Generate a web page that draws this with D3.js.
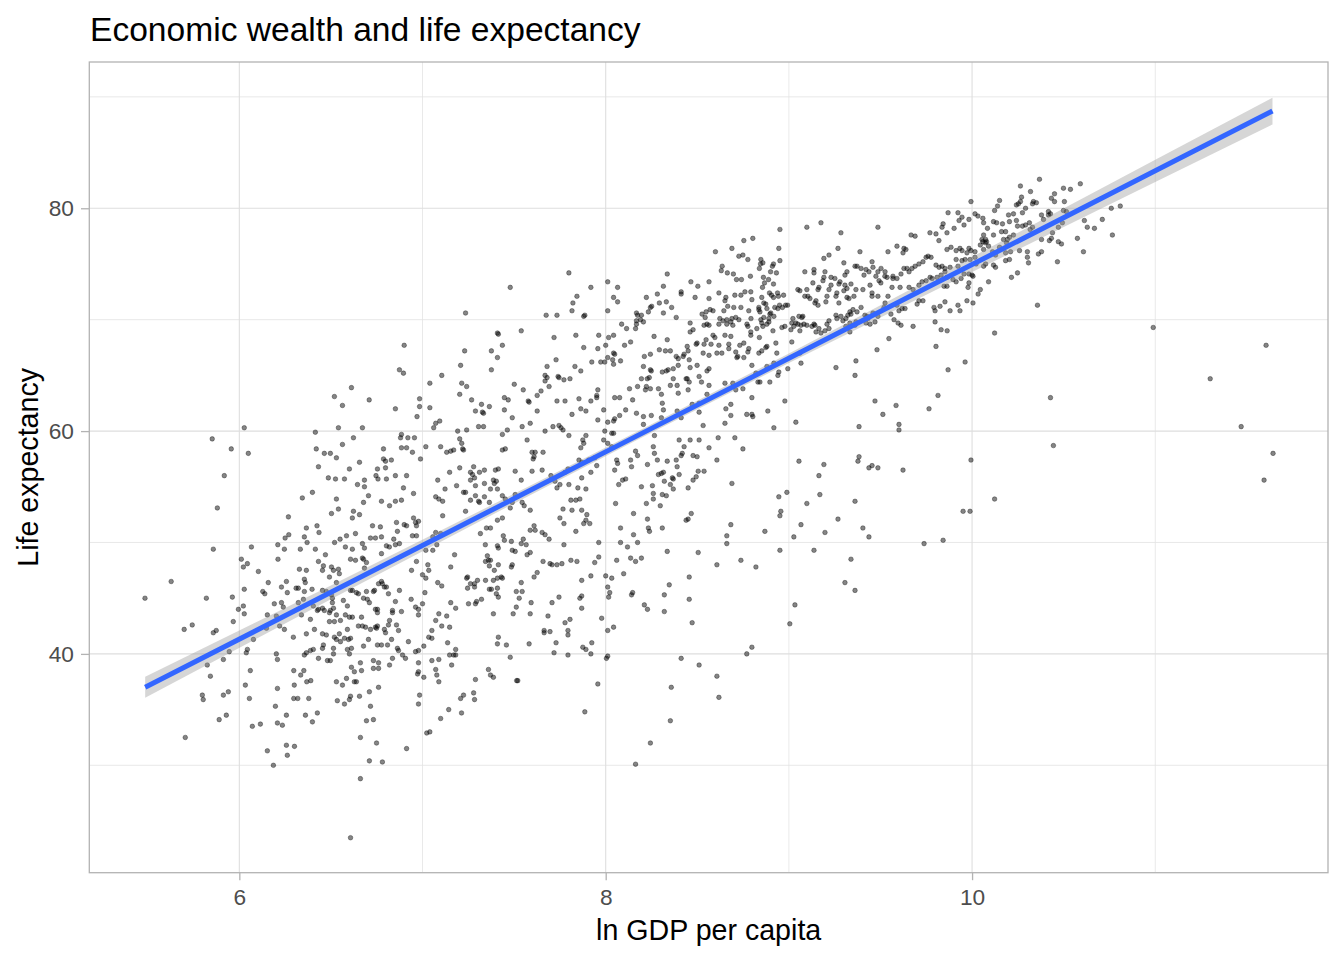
<!DOCTYPE html>
<html>
<head>
<meta charset="utf-8">
<script src="https://cdn.jsdelivr.net/npm/d3@7"></script>
<style>
  html, body { margin: 0; padding: 0; background: #ffffff; }
  svg { display: block; }
  text { font-family: "Liberation Sans", Arial, Helvetica, sans-serif; }
</style>
</head>
<body>
<svg id="chart" width="1344" height="960"></svg>
<script>
// ---------------- DATA ----------------
const chartTitle = "Economic wealth and life expectancy";
const xTitle = "ln GDP per capita";
const yTitle = "Life expectancy";
const xTicks = [6, 8, 10];
const xMinorTicks = [7, 9, 11];
const yTicks = [40, 60, 80];
const yMinorTicks = [30, 50, 70, 90];

// [ln GDP per capita, life expectancy]
const ptsPoorHigh = [[6.90,67.7],[6.874,65.5],[6.896,65.2],[6.612,63.9],[6.519,63.1],[6.709,62.8],[6.563,62.3],[6.984,62.9],[6.984,62.2],[6.852,62.0],[6.97,61.3],[6.027,60.3],[5.852,59.3],[5.956,58.4],[6.049,58.0],[5.918,56.0],[5.880,53.1],[6.415,59.9],[6.541,60.3],[6.672,60.3],[6.623,59.4],[6.885,59.7],[6.88,59.4],[6.92,59.4],[6.956,59.4],[6.563,58.8],[6.42,58.4],[6.464,58.0],[6.497,58.0],[6.53,57.6],[6.787,58.4],[6.885,58.5],[6.913,58.5],[6.945,58.1],[6.989,57.5],[6.787,57.5],[6.798,57.3],[6.83,57.4],[6.798,56.7],[6.754,56.6],[6.656,57.2],[6.601,56.6],[6.432,56.8],[6.486,55.8],[6.525,55.7],[6.574,55.7],[6.746,56.0],[6.757,55.7],[6.803,55.7],[6.852,56.0],[6.913,56.0],[6.683,55.6],[6.645,55.2],[6.683,55.0],[6.896,54.9],[6.951,54.4],[6.705,54.2],[6.399,54.5],[6.344,54.0],[6.53,53.9],[6.678,53.6],[6.776,53.7],[6.82,53.3],[6.852,53.7],[6.885,53.8],[6.541,53.0],[6.503,52.6],[6.623,52.8],[6.656,52.5],[6.617,52.2],[6.268,52.3],[6.366,51.3],[6.424,51.5],[6.435,50.9],[6.27,50.7],[6.25,50.4],[6.355,50.5],[6.37,50.0],[6.52,50.0],[6.55,50.3],[6.585,50.6],[6.634,50.8],[6.672,49.9],[6.727,51.5],[6.77,51.4],[6.716,50.4],[6.743,50.4],[6.776,50.5],[6.858,51.8],[6.90,51.6],[6.913,51.5],[6.951,52.2],[6.962,51.8],[6.978,51.9],[6.967,51.5],[6.863,51.0],[6.843,50.3],[6.945,50.6],[6.967,50.6],[6.874,49.9]];

const ptsPoorLow = [[5.858,49.4],[6.066,49.6],[6.21,49.8],[6.246,49.4],[6.333,49.4],[6.011,48.5],[6.044,48.1],[6.022,47.8],[6.211,48.5],[5.628,46.5],[5.485,45.0],[5.82,45.0],[5.962,45.1],[6.104,47.4],[6.158,46.4],[6.027,45.8],[6.128,45.6],[6.139,45.4],[6.23,46.0],[6.257,46.5],[6.262,45.5],[6.31,45.9],[6.355,46.7],[6.36,46.4],[6.328,47.6],[6.366,47.5],[6.432,48.3],[6.459,47.9],[6.454,47.5],[6.47,48.9],[6.415,49.4],[6.579,49.6],[6.617,49.4],[6.683,49.5],[6.776,49.0],[6.803,49.7],[6.819,49.6],[6.852,49.8],[6.607,48.5],[6.634,48.4],[6.672,48.6],[6.678,48.5],[6.694,48.2],[6.683,47.7],[6.503,47.8],[6.541,47.6],[6.514,47.5],[6.546,47.2],[6.492,46.9],[6.53,46.4],[6.475,45.6],[6.454,45.7],[6.322,45.9],[6.355,45.6],[6.397,45.8],[6.35,44.9],[6.322,44.6],[6.191,44.5],[6.23,44.6],[6.24,44.2],[6.022,44.3],[5.995,44.0],[6.027,43.6],[5.967,42.9],[5.699,42.2],[5.743,42.6],[5.858,41.9],[5.874,42.1],[6.153,43.5],[6.202,43.4],[6.22,42.5],[6.246,42.2],[6.148,42.3],[6.077,41.3],[6.295,41.5],[6.339,43.5],[6.388,43.1],[6.41,42.2],[6.366,41.8],[6.454,41.8],[6.475,41.7],[6.459,40.8],[6.454,40.5],[6.404,40.4],[6.388,40.3],[6.366,40.1],[6.355,39.9],[6.432,39.6],[6.481,39.4],[6.497,39.4],[6.514,40.0],[6.514,40.5],[6.519,41.5],[6.53,41.3],[6.552,41.1],[6.574,41.4],[6.596,41.3],[6.607,41.4],[6.546,41.8],[6.59,42.2],[6.59,40.4],[6.612,40.5],[6.601,40.0],[6.492,42.9],[6.519,42.9],[6.552,43.0],[6.464,43.9],[6.492,43.7],[6.497,43.9],[6.53,43.5],[6.514,44.1],[6.454,44.1],[6.432,44.0],[6.404,44.3],[6.426,43.9],[6.568,44.8],[6.59,44.3],[6.601,43.3],[6.617,43.3],[6.579,43.5],[6.508,45.0],[6.508,44.6],[6.503,45.3],[6.607,45.7],[6.617,45.7],[6.639,45.5],[6.65,45.4],[6.694,45.6],[6.699,44.9],[6.71,44.6],[6.678,45.0],[6.738,45.7],[6.732,45.6],[6.76,46.3],[6.776,46.5],[6.781,46.3],[6.792,46.0],[6.803,46.0],[6.814,45.4],[6.852,44.7],[6.874,45.7],[6.743,44.0],[6.754,44.0],[6.754,43.7],[6.836,43.9],[6.836,43.7],[6.885,43.8],[6.82,43.0],[6.667,43.3],[6.65,42.5],[6.672,42.5],[6.689,42.4],[6.716,42.2],[6.743,42.4],[6.754,42.5],[6.749,42.3],[6.792,42.2],[6.814,42.6],[6.858,42.6],[6.869,42.1],[6.798,41.9],[6.705,41.3],[6.754,40.8],[6.776,40.8],[6.809,40.8],[6.831,41.3],[6.863,40.5],[6.869,40.3],[6.891,39.9],[6.907,39.6],[6.836,39.6],[6.82,39.0],[6.76,39.2],[6.732,39.4],[6.732,38.7],[6.76,38.7],[6.678,40.7],[6.612,38.8],[6.661,39.2],[6.628,38.4],[6.667,38.5],[6.628,37.5],[6.639,37.5],[6.585,37.8],[6.53,37.5],[6.563,37.2],[6.535,35.8],[6.574,35.5],[6.601,35.9],[6.607,36.2],[6.656,36.2],[6.71,36.6],[6.716,35.3],[6.694,34.0],[6.732,34.1],[6.76,37.0],[6.297,38.5],[6.352,38.5],[6.335,38.1],[6.368,37.5],[6.39,37.6],[6.30,37.2],[6.297,36.0],[6.319,36.0],[6.379,36.0],[6.426,34.7],[6.361,34.5],[6.399,33.9],[6.257,34.5],[6.197,35.3],[6.208,36.9],[6.202,40.0],[6.208,39.5],[6.06,38.5],[6.033,37.2],[6.055,36.0],[6.071,33.5],[6.115,33.7],[6.208,33.8],[6.235,33.6],[6.153,31.3],[6.186,30.0],[6.257,31.8],[6.301,31.7],[6.262,30.9],[6.044,40.4],[6.038,40.1],[5.945,40.2],[5.913,39.5],[5.825,39.0],[5.842,38.0],[5.798,36.3],[5.803,35.9],[5.913,36.3],[5.94,36.6],[5.929,34.5],[5.89,34.1],[5.705,32.5],[6.661,32.5],[6.749,32.0],[6.71,30.4],[6.781,30.3],[6.661,28.8],[6.913,31.5],[6.607,23.5],[6.938,44.9],[6.962,44.2],[6.978,44.0],[6.978,43.5],[7.0,44.5],[7.0,47.1],[6.967,48.3],[6.94,47.5],[6.923,41.1],[6.962,40.2],[6.978,40.3],[6.978,39.2],[6.978,38.4],[6.973,38.2],[6.984,36.3],[6.978,35.5]];

const ptsMidHigh = [[7.799,74.2],[7.479,72.9],[7.235,70.6],[7.843,72.1],[7.821,71.5],[7.816,70.8],[7.919,72.9],[7.675,70.4],[7.734,70.4],[7.88,70.3],[7.886,70.4],[8.011,73.4],[8.065,72.9],[8.043,72.0],[8.065,71.6],[8.011,70.8],[8.336,74.1],[8.315,73.0],[8.282,72.3],[8.222,72.0],[8.251,71.2],[8.244,71.1],[8.331,71.6],[8.293,71.5],[8.36,71.1],[8.315,70.6],[8.233,70.7],[8.168,70.6],[8.174,70.4],[8.195,70.4],[8.19,70.0],[8.206,69.8],[8.168,69.9],[8.412,72.5],[8.412,72.3],[8.465,73.4],[8.503,73.0],[8.488,72.0],[8.564,73.4],[8.564,71.9],[8.548,70.7],[8.57,70.9],[8.526,70.5],[8.543,70.2],[8.553,69.6],[8.564,69.5],[8.537,69.5],[8.586,70.8],[8.385,70.2],[8.461,69.7],
[7.539,69.0],[7.409,68.8],[7.414,68.7],[7.23,67.2],[7.376,67.2],[7.436,67.7],[7.409,66.6],[7.208,65.9],[7.376,65.5],[7.105,65.0],[7.04,64.3],[7.718,68.4],[7.837,68.6],[7.88,67.5],[7.957,67.4],[7.962,68.6],[7.729,66.4],[7.68,65.8],[7.832,65.8],[7.864,65.4],[7.924,66.2],[7.973,66.2],[7.995,66.2],[8.011,66.6],[8.0,67.7],[8.016,68.4],[8.043,68.6],[8.043,67.0],[8.038,66.4],[8.049,66.9],[8.081,66.3],[8.043,66.0],[8.103,67.7],[8.114,69.2],[8.087,69.6],[8.136,68.0],[8.163,69.2],[8.168,69.6],[8.211,66.7],[8.244,66.9],[8.206,65.8],[8.244,65.5],[8.249,65.4],[8.238,64.8],[8.195,64.7],[8.227,64.7],[8.264,68.5],[8.336,68.2],[8.293,67.3],[8.326,67.2],[8.353,67.2],[8.385,66.7],[8.396,66.5],[8.423,66.7],[8.341,65.5],[8.369,65.6],[8.309,65.3],[8.331,65.4],[8.461,68.9],[8.477,69.1],[8.499,67.9],[8.494,67.8],[8.537,67.8],[8.575,67.8],[8.586,68.6],[8.548,68.2],[8.445,67.6],[8.45,67.2],[8.428,66.9],[8.456,66.4],[8.499,65.9],[8.532,67.0],[8.564,66.8],[8.461,65.7],[8.51,64.9],[8.553,65.4],[8.564,65.6],[8.445,64.7],[8.396,65.9],
[7.501,64.2],[7.55,63.7],[7.669,65.0],[7.68,64.8],[7.669,64.5],[7.691,64.0],[7.74,64.9],[7.745,64.8],[7.772,64.6],[7.805,64.7],[7.626,63.2],[7.647,63.6],[7.203,63.3],[7.214,64.3],[7.241,64.0],[7.268,62.8],[7.289,61.8],[7.322,62.4],[7.327,61.7],[7.333,61.6],[7.365,62.2],[7.447,63.0],[7.468,62.8],[7.447,61.9],[7.49,61.2],[7.588,60.7],[7.544,60.4],[7.577,62.7],[7.582,62.6],[7.626,61.8],[7.734,62.7],[7.778,62.7],[7.816,61.5],[7.854,62.9],[7.864,62.0],[7.892,61.8],[7.919,62.7],[7.951,63.2],[7.951,63.0],[7.957,63.7],[7.04,62.1],[7.061,60.3],[7.072,60.7],[7.094,60.9],[7.306,60.4],[7.333,60.4],[7.241,60.1],[7.192,60.0],[7.712,60.4],[7.745,60.5],[7.756,60.3],[7.767,60.1],[7.799,59.6],[7.669,60.0],[7.957,61.0],[7.989,61.9],[8.011,60.8],[8.043,60.9],[8.049,61.1],[8.076,61.4],[8.109,61.9],[8.168,61.6],[8.206,61.3],[8.249,61.4],[8.304,61.2],[8.206,60.6],[8.266,59.6],[7.995,60.0],[8.033,59.8],[8.043,59.8],[7.989,59.2],[8.011,58.9],[8.033,58.6],[8.049,63.0],[8.076,63.0],[8.147,62.8],[8.217,63.7],[8.222,64.0],[8.244,63.8],[8.13,63.8],[8.174,64.0],[8.288,63.8],[8.304,63.3],[8.353,64.1],[8.369,64.7],[8.39,64.1],[8.396,63.4],[8.439,64.7],[8.45,63.7],[8.456,64.4],[8.472,62.4],[8.51,62.5],[8.523,64.4],[8.564,64.1],[8.553,63.3],[8.51,61.7],[8.532,60.5],[8.412,61.2],[8.39,61.8],[8.315,61.9],[8.309,62.5],
[7.018,58.6],[7.099,58.6],[7.083,55.6],[7.123,54.8],[7.072,54.1],[7.089,53.9],[7.11,53.7],[7.11,52.4],[7.148,56.3],[7.186,55.1],[7.203,59.3],[7.214,58.9],[7.219,58.4],[7.224,58.3],[7.132,58.1],[7.154,58.2],[7.17,58.3],[7.203,56.7],[7.262,56.3],[7.279,56.8],[7.273,56.1],[7.284,55.8],[7.262,55.6],[7.311,56.3],[7.338,56.5],[7.338,55.3],[7.289,55.1],[7.224,54.5],[7.235,54.5],[7.262,53.8],[7.289,54.2],[7.306,53.7],[7.311,53.6],[7.235,52.8],[7.387,55.6],[7.403,55.5],[7.392,55.3],[7.371,54.8],[7.409,54.8],[7.338,54.1],[7.365,53.6],[7.398,56.5],[7.414,56.6],[7.436,54.2],[7.436,58.3],[7.452,58.4],[7.436,59.7],[7.463,60.1],[7.571,59.2],[7.598,58.1],[7.615,58.1],[7.658,58.1],[7.609,57.7],[7.604,57.5],[7.506,56.4],[7.539,55.6],[7.598,56.4],[7.653,56.5],[7.506,54.3],[7.544,53.6],[7.555,53.3],[7.588,52.9],[7.452,53.9],[7.49,53.6],[7.479,53.1],[7.436,52.2],[7.875,59.2],[7.88,58.9],[7.892,59.6],[7.864,58.5],[7.854,57.4],[7.869,57.2],[7.907,57.4],[7.94,57.6],[7.951,56.9],[7.919,56.3],[7.869,55.8],[7.848,54.9],[7.892,54.8],[7.81,53.8],[7.837,53.8],[7.859,53.9],[7.767,53.0],[7.816,52.9],[7.869,52.9],[7.897,52.5],[7.75,52.2],[7.799,55.2],[7.75,55.2],[7.723,55.5],[7.734,54.9],[7.701,56.0],[7.778,56.3],[7.794,56.6],[8.049,56.5],[8.092,55.6],[8.109,55.7],[8.071,55.2],[8.06,57.4],[8.065,57.1],[8.141,56.8],[8.136,57.4],[8.195,55.0],[8.228,57.0],[8.174,57.8],[8.163,58.2],[8.26,58.6],[8.266,58.0],[8.282,57.4],[8.288,56.1],[8.304,56.2],[8.315,56.3],[8.32,55.5],[8.364,55.8],[8.369,55.7],[8.255,55.1],[8.26,54.4],[8.309,54.3],[8.331,54.2],[8.26,53.9],[8.298,53.3],[8.222,53.5],[8.054,53.5],[8.152,52.6],[8.228,52.1],[8.336,57.3],[8.385,57.4],[8.39,56.8],[8.401,56.1],[8.353,55.2],[8.369,54.8],[8.45,54.9],[8.477,55.6],[8.494,55.9],[8.505,56.4],[8.537,56.4],[8.477,57.8],[8.499,57.7],[8.412,57.8],[8.418,58.0],[8.428,58.6],[8.401,59.2],[8.461,59.2],[8.51,59.2],[8.564,58.5],[8.467,52.6],[8.45,52.1]];

const ptsMidLow = [[7.409,52.0],[7.316,50.8],[7.343,49.8],[7.349,51.3],[7.371,51.3],[7.409,49.7],[7.414,49.5],[7.441,50.6],[7.447,50.2],[7.485,50.1],[7.49,49.3],[7.506,49.2],[7.539,49.9],[7.55,50.3],[7.566,49.8],[7.588,49.1],[7.571,48.9],[7.588,51.1],[7.609,51.5],[7.615,51.1],[7.653,50.9],[7.669,50.7],[7.691,50.3],[7.772,51.7],[7.772,49.8],[7.837,51.0],[7.88,51.7],[7.892,52.0],[7.913,51.7],
[7.072,50.9],[7.056,50.5],[7.099,50.8],[7.078,49.8],[7.018,49.3],[7.056,49.3],[7.029,48.0],[7.034,47.5],[7.175,48.9],[7.154,47.8],[7.018,46.8],[7.083,46.4],[7.105,46.1],[7.013,45.5],[7.089,43.6],[7.132,43.4],[7.072,43.0],[7.105,42.5],[7.148,42.4],[7.051,42.1],[7.034,41.5],[7.051,41.4],[7.137,41.0],[7.007,40.7],[7.148,39.9],[7.17,39.9],[7.181,39.9],[7.181,40.4],[7.159,39.0],[7.051,39.4],[7.089,39.5],[7.072,38.6],[7.078,38.1],[7.089,37.5],[7.007,37.9],[7.143,35.0],[7.099,34.2],[7.023,32.9],[7.04,33.0],[7.213,34.7],[7.208,36.0],[7.224,36.3],[7.279,36.5],[7.284,35.9],[7.289,37.7],[7.36,38.6],[7.371,38.1],[7.387,37.9],[7.154,44.6],[7.181,44.1],[7.251,44.5],[7.289,44.5],[7.295,44.7],[7.322,44.9],[7.387,43.6],[7.414,41.5],[7.409,40.9],[7.458,40.8],[7.479,39.7],[7.514,37.6],[7.52,37.6],
[7.241,46.8],[7.246,46.9],[7.3,46.6],[7.246,45.9],[7.262,46.3],[7.284,46.3],[7.284,46.0],[7.344,46.6],[7.354,48.8],[7.36,48.4],[7.344,48.3],[7.371,48.4],[7.365,47.9],[7.392,47.5],[7.387,46.6],[7.409,46.8],[7.414,48.0],[7.409,45.9],[7.403,45.4],[7.414,45.1],[7.43,46.9],[7.436,46.8],[7.365,45.8],[7.376,45.8],[7.485,47.8],[7.49,48.0],[7.539,46.4],[7.512,45.6],[7.528,45.0],[7.544,45.6],[7.512,44.2],[7.495,43.6],[7.588,43.6],[7.593,44.6],[7.582,40.9],[7.609,46.9],[7.626,47.3],[7.658,48.3],[7.696,48.1],[7.707,48.0],[7.734,48.0],[7.761,48.1],[7.81,48.4],[7.843,48.3],[7.707,44.6],[7.745,45.1],[7.685,43.4],[7.778,42.8],[7.805,43.1],[7.794,42.1],[7.794,41.7],[7.664,42.1],[7.664,41.9],[7.696,42.0],[7.729,41.0],[7.718,40.1],[7.794,39.9],[7.875,40.6],[7.892,40.4],[7.924,41.0],[7.919,40.0],[7.859,45.0],[7.869,45.2],[7.869,44.1],[7.919,47.0],[7.869,46.6],[7.94,48.2],[7.962,48.7],[7.962,50.0],[7.978,43.2],[7.957,37.3],[7.886,34.8],
[8.0,47.0],[8.033,46.8],[8.011,46.0],[8.022,45.5],[8.016,45.1],[8.011,42.1],[8.043,42.4],[8.004,39.6],[8.011,39.8],[8.06,48.4],[8.081,50.0],[8.081,51.3],[8.119,49.6],[8.152,50.7],[8.174,50.0],[8.136,48.6],[8.163,48.3],[8.195,48.6],[8.098,47.2],[8.141,45.3],[8.147,45.5],[8.211,44.4],[8.228,44.0],[8.239,51.0],[8.233,51.3],[8.309,51.3],[8.336,49.2],[8.32,45.3],[8.32,43.8],[8.347,46.2],[8.456,46.9],[8.456,44.9],[8.439,52.0],[8.505,49.1],[8.472,42.8],[8.412,39.6],[8.51,39.0],[8.358,37.0],[8.353,34.0],[8.244,32.0],[8.163,30.1]];

const ptsRichHigh = [[8.599,76.1],[8.689,76.4],[8.754,77.1],[8.803,77.3],[8.727,75.7],[8.749,75.8],[8.776,75.4],[8.847,75.4],[8.858,75.1],[8.945,76.4],[8.951,75.3],[8.951,78.1],
[8.636,74.8],[8.631,74.4],[8.664,74.2],[8.697,74.1],[8.714,73.6],[8.741,73.6],[8.79,73.9],[8.839,74.6],[8.845,75.0],[8.91,74.8],[8.916,75.0],[8.9,74.3],[8.932,74.2],[8.889,73.6],[8.861,73.8],[8.867,73.3],[8.856,72.9],[8.894,72.4],[8.905,72.2],[8.916,72.0],[8.938,72.4],[8.943,72.1],[8.916,73.2],[8.949,71.3],[8.965,71.1],[8.971,72.2],[8.982,71.3],[8.993,71.3],
[8.618,72.4],[8.656,72.0],[8.651,71.7],[8.705,72.2],[8.738,72.2],[8.76,72.5],[8.792,72.5],[8.798,71.8],[8.852,72.0],[8.863,71.5],[8.874,71.4],[8.836,71.1],[8.842,70.7],[8.88,71.0],[8.896,70.5],[8.901,70.6],[8.923,71.1],[8.94,71.0],[8.918,70.3],[8.891,70.1],[8.863,70.2],[8.847,70.0],[8.836,70.9],[8.781,70.8],[8.738,71.1],[8.699,71.1],[8.666,71.2],[8.645,70.8],[8.623,70.1],[8.661,70.0],[8.683,69.8],[8.694,69.5],[8.689,70.1],[8.71,70.2],[8.727,70.0],[8.793,70.1],[8.771,69.6],[8.776,69.4],[8.825,69.2],[8.858,69.4],[8.852,69.7],[8.88,69.6],[8.891,69.8],[8.913,69.0],[8.962,69.3],[8.978,69.4],[9.011,69.1],[9.016,69.7],[9.038,69.7],[9.049,69.6],[9.06,69.0],[9.071,70.2],[9.076,70.3],
[8.618,69.6],[8.64,69.9],[8.661,69.6],[8.651,68.6],[8.683,68.5],[8.596,68.4],[8.618,67.7],[8.607,67.0],[8.634,67.0],[8.672,67.8],[8.672,67.4],[8.71,67.1],[8.716,66.6],[8.732,67.7],[8.721,66.7],[8.754,66.6],[8.776,67.1],[8.781,67.4],[8.754,67.9],[8.792,68.9],[8.792,68.6],[8.839,68.4],[8.798,65.9],[8.836,67.0],[8.852,67.2],[8.88,67.6],[8.874,67.5],[8.929,67.9],[8.934,67.0],[8.918,66.1],[8.88,65.8],[8.82,65.2],[8.842,64.4],[8.896,64.4],[8.94,65.0],[8.945,65.3],[8.994,65.6],[9.016,68.0],[9.066,66.1],[9.06,67.0],
[8.651,64.3],[8.694,64.3],[8.71,63.7],[8.749,63.8],[8.798,63.0],[8.831,64.4],[8.885,61.8],[8.656,62.0],[8.683,62.4],[8.651,60.7],[8.683,61.4],[8.77,61.5],[8.798,61.5],[8.803,61.3],[8.918,60.3],[8.978,62.7],[9.038,60.8],
[9.098,78.3],[9.175,78.7],[9.284,77.8],[9.268,76.4],[9.191,75.5],[9.219,75.8],[9.3,75.1],
[9.087,74.3],[9.137,74.5],[9.137,74.2],[9.197,74.3],[9.191,73.8],[9.186,73.5],[9.23,73.8],[9.251,73.7],[9.279,73.4],[9.306,74.0],[9.317,74.3],[9.23,73.1],[9.219,72.7],[9.164,72.9],[9.159,72.7],[9.131,73.3],[9.098,72.7],[9.06,72.6],[9.049,72.7],[9.087,72.1],[9.104,72.1],[9.115,71.9],[9.148,71.7],[9.142,71.5],[9.159,71.3],[9.202,71.6],[9.208,72.1],[9.257,72.1],[9.273,73.2],[9.306,73.1],[9.317,72.8],[9.317,72.0],[9.328,71.9],[9.355,72.1],[9.361,74.8],[9.372,74.8],[9.394,74.6],[9.421,74.5],[9.454,75.2],[9.388,76.1],[9.41,74.0],[9.437,74.3],[9.475,73.9],[9.486,74.3],[9.492,73.5],[9.443,73.1],[9.404,72.7],[9.454,72.4],[9.486,72.1],[9.366,72.7],[9.339,73.2],[9.262,72.4],[9.3,72.6],[9.273,71.5],
[9.055,70.3],[9.022,70.1],[9.027,69.4],[9.066,69.5],[9.082,69.6],[9.098,69.5],[9.126,69.4],[9.137,69.6],[9.142,69.5],[9.164,69.2],[9.208,69.6],[9.219,69.9],[9.262,70.1],[9.257,70.4],[9.284,70.3],[9.311,70.1],[9.322,70.4],[9.339,70.5],[9.333,70.7],[9.35,70.9],[9.394,71.1],[9.372,70.7],[9.415,70.4],[9.432,70.1],[9.443,69.6],[9.47,69.8],[9.486,70.3],[9.148,68.9],[9.175,68.8],[9.197,69.0],[9.219,69.2],[9.333,68.9],[9.311,69.4],[9.295,69.9],[9.333,69.7],[9.361,69.5],[9.366,69.8],[9.421,69.7],
[9.257,65.7],[9.366,66.3],[9.361,65.0],[9.47,62.7],[9.481,67.3],[9.546,68.3],[9.513,61.5],[9.383,60.4],[9.601,60.6],[9.601,60.1],[9.585,62.3],[9.803,67.6],[9.814,63.2],[9.765,62.0],[9.869,65.5],[9.962,66.2],[9.864,69.0],[9.798,69.8],[9.831,69.1],
[9.486,78.3],[9.541,76.1],[9.59,76.6],[9.628,76.4],[9.639,76.3],[9.623,76.0],[9.667,77.6],[9.689,77.5],[9.77,77.8],[9.803,77.7],[9.819,77.1],[9.836,78.3],[9.842,78.6],[9.863,77.8],[9.869,79.6],[9.923,79.6],[9.902,78.2],[9.929,78.9],[9.945,79.2],[9.956,78.5],[9.983,79.0],[9.994,80.6],[10.016,79.5],[10.032,79.3],[9.885,76.5],[9.863,76.3],[9.913,76.2],[9.934,76.4],[9.945,76.2],[9.972,76.0],[9.983,76.4],[9.994,76.2],[10.016,76.1],
[9.459,74.7],[9.503,74.6],[9.525,74.3],[9.536,73.8],[9.568,73.7],[9.568,73.9],[9.59,73.7],[9.612,74.1],[9.628,74.6],[9.645,74.6],[9.656,74.3],[9.672,74.6],[9.689,74.8],[9.71,75.0],[9.732,75.2],[9.749,75.6],[9.76,75.7],[9.776,75.6],[9.803,74.9],[9.82,74.7],[9.836,74.8],[9.852,74.6],[9.88,74.7],[9.913,75.4],[9.923,74.8],[9.945,75.3],[9.962,75.4],[9.989,75.4],[10.016,75.6],[10.022,75.0],[9.502,73.3],[9.524,73.9],[9.563,72.9],[9.607,72.9],[9.656,72.9],[9.678,72.7],[9.71,73.1],[9.727,73.4],[9.749,73.5],[9.771,73.8],[9.782,73.7],[9.809,73.8],[9.831,74.0],[9.852,74.3],[9.863,73.8],[9.847,73.0],[9.863,73.0],[9.896,73.6],[9.913,73.4],[9.94,73.7],[9.956,74.1],[9.983,74.1],[10.0,74.0],[10.005,73.9],[9.983,73.3],[9.978,72.9],
[9.454,72.1],[9.541,72.1],[9.525,71.5],[9.519,71.1],[9.59,71.3],[9.618,71.0],[9.601,70.8],[9.634,71.0],[9.7,71.4],[9.71,71.7],[9.732,71.7],[9.792,71.1],[9.798,70.8],[9.825,71.2],[9.852,71.6],[9.88,70.8],[9.923,71.3],[9.934,70.8],[9.972,71.7],[10.005,71.5],[10.033,72.3],[9.459,70.6],[9.426,70.3],[9.557,70.5],[9.596,69.7],[9.612,69.5],[9.574,70.0],[9.678,69.4]];

const ptsRichLow = [[8.614,59.4],[8.705,59.4],[8.607,57.4],[8.749,58.4],[8.689,55.3],[9.055,57.3],[9.191,57.0],[9.164,56.0],[9.169,54.3],[9.098,53.5],[8.989,54.5],[8.945,54.1],[8.956,52.8],[8.951,52.4],[9.066,51.6],[9.027,50.5],[8.869,51.0],[8.683,51.6],[8.661,50.6],[8.661,49.9],[8.607,48.0],[8.738,48.4],[8.82,47.8],[8.951,49.3],[9.137,49.3],[9.197,50.9],[9.268,52.1],[9.361,53.7],[9.377,57.3],[9.383,57.7],[9.437,56.7],[9.454,56.9],[9.486,56.7],[9.623,56.5],[9.404,51.3],[9.437,50.5],[9.339,48.5],[9.306,46.4],[9.361,45.7],[9.033,44.4],[9.005,42.7],[8.798,40.6],[8.77,40.0],[8.607,38.0],[8.618,36.1],[9.738,49.9],[9.842,50.2],[9.951,52.8],[9.989,52.8],[9.994,57.4]];

const ptsRichest = [[10.368,82.6],[10.264,82.0],[10.319,81.5],[10.27,81.0],[10.264,80.6],[10.253,80.4],[10.242,80.3],[10.15,80.7],[10.139,80.2],[10.123,79.8],[10.059,79.1],[10.063,78.7],[10.084,78.2],[10.117,78.8],[10.134,78.7],[10.166,78.6],[10.204,78.8],[10.199,79.4],[10.226,79.5],[10.242,78.9],[10.275,79.6],[10.292,80.0],[10.335,80.6],[10.33,80.4],[10.351,80.5],[10.433,80.9],[10.45,81.3],[10.45,80.6],[10.499,81.8],[10.537,81.7],[10.591,82.2],[10.504,80.6],[10.499,79.8],[10.515,79.7],[10.428,79.5],[10.417,79.7],[10.379,79.4],[10.39,79.0],[10.417,79.4],[10.313,78.7],[10.33,78.3],[10.292,78.5],[10.275,78.4],[10.248,78.4],[10.226,77.6],[10.204,77.4],[10.183,77.9],[10.161,77.9],[10.172,77.2],[10.193,77.2],[10.117,77.6],[10.063,77.6],[10.074,77.2],[10.079,77.0],[10.059,77.0],[10.112,76.1],[10.15,76.5],[10.188,76.9],[10.183,76.0],[10.21,76.1],[10.259,76.2],[10.302,76.1],[10.317,78.1],[10.471,78.3],[10.493,78.7],[10.439,77.8],[10.433,77.3],[10.422,77.1],[10.379,77.2],[10.471,77.0],[10.488,76.8],[10.362,75.9],[10.379,76.1],[10.302,75.6],[10.308,75.1],[10.204,75.4],[10.183,75.3],[10.128,75.8],[10.117,74.9],[10.128,74.7],[10.074,75.0],[10.063,74.8],[10.466,75.2],[10.575,77.3],[10.608,76.1],[10.613,78.9],[10.629,78.3],[10.668,78.2],[10.711,79.0],[10.76,80.0],[10.809,80.2],[10.766,77.6],[10.215,73.8],[10.248,74.2],[10.09,73.4],[10.045,72.7],[10.357,71.3],[10.054,77.2],[10.072,76.9],[10.045,76.7],[10.063,76.3],[10.09,76.6],
[10.123,68.8],[10.989,69.3],[11.605,67.7],[11.3,64.7],[10.428,63.0],[11.469,60.4],[10.444,58.7],[11.643,58.0],[11.594,55.6],[10.123,53.9]];

// linear fit (geom_smooth, method = "lm") with its 95% band
const fitX     = [5.486, 6.5, 7.5, 8.16, 9.0, 10.0, 11.0, 11.64];
const fitY     = [37.01, 45.53, 53.94, 59.48, 66.54, 74.95, 83.36, 88.73];
const fitLower = [36.06, 44.91, 53.51, 59.12, 66.11, 74.27, 82.36, 87.53];
const fitUpper = [37.96, 46.15, 54.37, 59.84, 66.97, 75.63, 84.36, 89.93];

// ---------------- DRAWING ----------------
const points = [].concat(ptsPoorHigh, ptsPoorLow, ptsMidHigh, ptsMidLow, ptsRichHigh, ptsRichLow, ptsRichest);
const fit = fitX.map((x, i) => ({x, y: fitY[i], lo: fitLower[i], hi: fitUpper[i]}));

const panel = {left: 89.3, right: 1328, top: 62, bottom: 872.7};
const x = d3.scaleLinear().domain([5.181, 11.943]).range([panel.left, panel.right]);
const y = d3.scaleLinear().domain([20.36, 93.13]).range([panel.bottom, panel.top]);

const svg = d3.select("#chart");
const font = '"Liberation Sans", Arial, Helvetica, sans-serif';

// grid
const grid = svg.append("g");
grid.selectAll("line.xminor").data(xMinorTicks).join("line")
  .attr("x1", d => x(d)).attr("x2", d => x(d)).attr("y1", panel.top).attr("y2", panel.bottom)
  .attr("stroke", "#E3E3E3").attr("stroke-width", 0.8);
grid.selectAll("line.yminor").data(yMinorTicks).join("line")
  .attr("y1", d => y(d)).attr("y2", d => y(d)).attr("x1", panel.left).attr("x2", panel.right)
  .attr("stroke", "#E3E3E3").attr("stroke-width", 0.8);
grid.selectAll("line.xmajor").data(xTicks).join("line")
  .attr("x1", d => x(d)).attr("x2", d => x(d)).attr("y1", panel.top).attr("y2", panel.bottom)
  .attr("stroke", "#DEDEDE").attr("stroke-width", 1.1);
grid.selectAll("line.ymajor").data(yTicks).join("line")
  .attr("y1", d => y(d)).attr("y2", d => y(d)).attr("x1", panel.left).attr("x2", panel.right)
  .attr("stroke", "#DEDEDE").attr("stroke-width", 1.1);

// points
svg.append("g").selectAll("circle").data(points).join("circle")
  .attr("cx", d => x(d[0])).attr("cy", d => y(d[1])).attr("r", 2.3)
  .attr("fill", "rgba(0,0,0,0.48)").attr("stroke", "rgba(0,0,0,0.45)").attr("stroke-width", 0.75);

// confidence band
svg.append("path").datum(fit)
  .attr("d", d3.area().x(d => x(d.x)).y0(d => y(d.lo)).y1(d => y(d.hi)))
  .attr("fill", "#999999").attr("fill-opacity", 0.4);

// fit line
svg.append("path").datum(fit)
  .attr("d", d3.line().x(d => x(d.x)).y(d => y(d.y)))
  .attr("fill", "none").attr("stroke", "#3366FF").attr("stroke-width", 5);

// panel border
svg.append("rect")
  .attr("x", panel.left).attr("y", panel.top)
  .attr("width", panel.right - panel.left).attr("height", panel.bottom - panel.top)
  .attr("fill", "none").attr("stroke", "#B3B3B3").attr("stroke-width", 1.3);

// axes
const xAxis = svg.append("g").attr("transform", `translate(0,${panel.bottom})`)
  .call(d3.axisBottom(x).tickValues(xTicks).tickSize(7.5).tickPadding(9).tickFormat(d3.format("d")));
const yAxis = svg.append("g").attr("transform", `translate(${panel.left},0)`)
  .call(d3.axisLeft(y).tickValues(yTicks).tickSize(8.3).tickPadding(7).tickFormat(d3.format("d")));
[xAxis, yAxis].forEach(a => {
  a.select(".domain").remove();
  a.selectAll(".tick line").attr("stroke", "#B3B3B3").attr("stroke-width", 1.3);
  a.selectAll(".tick text").attr("fill", "#4D4D4D").style("font-size", "22.7px").style("font-family", font);
});

// titles
svg.append("text").attr("x", 90).attr("y", 40.5)
  .style("font-size", "33.6px").style("font-family", font).attr("fill", "#000")
  .text(chartTitle);
svg.append("text").attr("x", (panel.left + panel.right) / 2).attr("y", 940)
  .attr("text-anchor", "middle").style("font-size", "28.6px").style("font-family", font).attr("fill", "#000")
  .text(xTitle);
svg.append("text").attr("transform", `translate(37.5,${(panel.top + panel.bottom) / 2}) rotate(-90)`)
  .attr("text-anchor", "middle").style("font-size", "28.6px").style("font-family", font).attr("fill", "#000")
  .text(yTitle);
</script>
</body>
</html>
